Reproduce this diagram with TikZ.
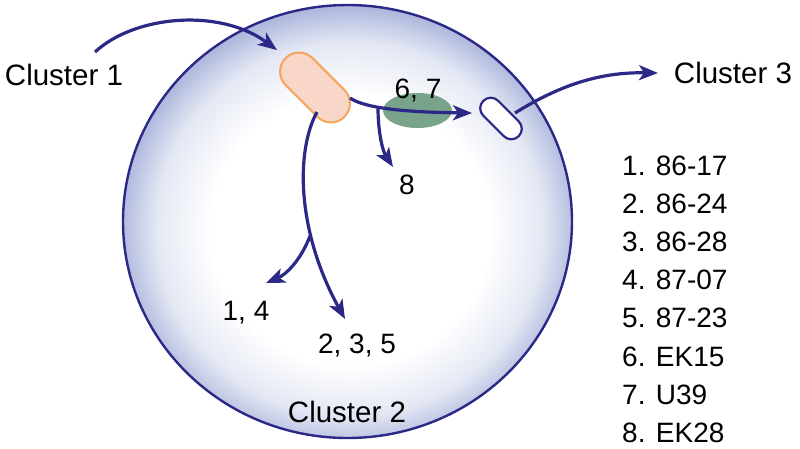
\documentclass[tikz,border=0pt]{standalone}
\usepackage{fontspec}
\setmainfont{Liberation Sans}
\usetikzlibrary{arrows.meta,shapes.geometric}
\definecolor{navy}{RGB}{44,40,135}
\definecolor{rimblue}{RGB}{168,178,218}
\definecolor{midblue}{RGB}{228,232,244}
\definecolor{salmon}{RGB}{248,214,200}
\definecolor{orangeline}{RGB}{246,164,92}
\definecolor{sage}{RGB}{122,163,140}
\pgfdeclareradialshading{ballshade}{\pgfpoint{0.4bp}{-1.5bp}}{color(0bp)=(white); color(15.5bp)=(white); color(21.5bp)=(midblue); color(26bp)=(rimblue); color(50bp)=(rimblue)}
\begin{document}
\begin{tikzpicture}[x=1pt,y=-1pt,
  arr/.style={draw=navy,line width=3.2pt,-{Stealth[length=19pt,width=15pt,inset=5pt]}},
  lbl/.style={font=\fontsize{28}{32}\selectfont, inner sep=0pt, anchor=base},
  big/.style={font=\fontsize{29.5}{34}\selectfont, inner sep=0pt, anchor=base},
  item/.style={font=\fontsize{28}{32}\selectfont, inner sep=0pt, anchor=base west}]
\useasboundingbox (0,0) rectangle (800,448);
% big cell
\node[ellipse, minimum width=449pt, minimum height=433pt, inner sep=0pt,
      draw=navy, line width=2.4pt, shading=ballshade] (ball) at (347.5,221.5) {};
% shapes
\node[draw=orangeline, fill=salmon, line width=2pt, rounded corners=18.9pt,
      minimum width=83pt, minimum height=38pt, inner sep=0pt, rotate=-45] (src) at (315,87.5) {};
\node[ellipse, fill=sage, minimum width=69pt, minimum height=35pt, inner sep=0pt] (green) at (417.5,110.5) {};
\node[draw=navy, fill=white, line width=2.2pt, rounded corners=10.4pt,
      minimum width=50pt, minimum height=21pt, inner sep=0pt, rotate=-45] (dest) at (501,118.5) {};
% labels
\node[big] (cl1) at (64,85) {Cluster 1};
\node[big] (cl3) at (733,83) {Cluster 3};
\node[big] (cl2) at (347,422) {Cluster 2};
\node[lbl] (l67) at (418,98) {6, 7};
\node[lbl] (l8) at (407,194) {8};
\node[lbl] (l14) at (246,320) {1, 4};
\node[lbl] (l235) at (357,353) {2, 3, 5};
\node[item] (i1) at (622,175) {1. 86-17};
\node[item] (i2) at (622,213) {2. 86-24};
\node[item] (i3) at (622,251) {3. 86-28};
\node[item] (i4) at (622,289) {4. 87-07};
\node[item] (i5) at (622,327) {5. 87-23};
\node[item] (i6) at (622,366) {6. EK15};
\node[item] (i7) at (622,404) {7. U39};
\node[item] (i8) at (622,442) {8. EK28};
% connector points
\coordinate (c1s) at (95,52);
\coordinate (c1e) at (277,50);
\coordinate (o1) at (350,98);
\coordinate (br1) at (378,108);
\coordinate (d1) at (472,113);
\coordinate (e8) at (393,167);
\coordinate (o2) at (317,112);
\coordinate (br2) at (310,236);
\coordinate (e235) at (345,319);
\coordinate (e14) at (266,283);
\coordinate (ds) at (515,113);
\coordinate (c3e) at (658,73);
% connectors
\draw[arr] (c1s) .. controls (135,15) and (220,8) .. (c1e);
\draw[arr] (o1) .. controls (362,106) and (390,112) .. (d1);
\draw[arr] (br1) .. controls (378,130) and (382,150) .. (e8);
\draw[arr] (o2) .. controls (296,150) and (296,230) .. (e235);
\draw[arr] (br2) .. controls (300,262) and (285,275) .. (e14);
\draw[arr] (ds) .. controls (560,85) and (600,72) .. (c3e);
\end{tikzpicture}
\end{document}
